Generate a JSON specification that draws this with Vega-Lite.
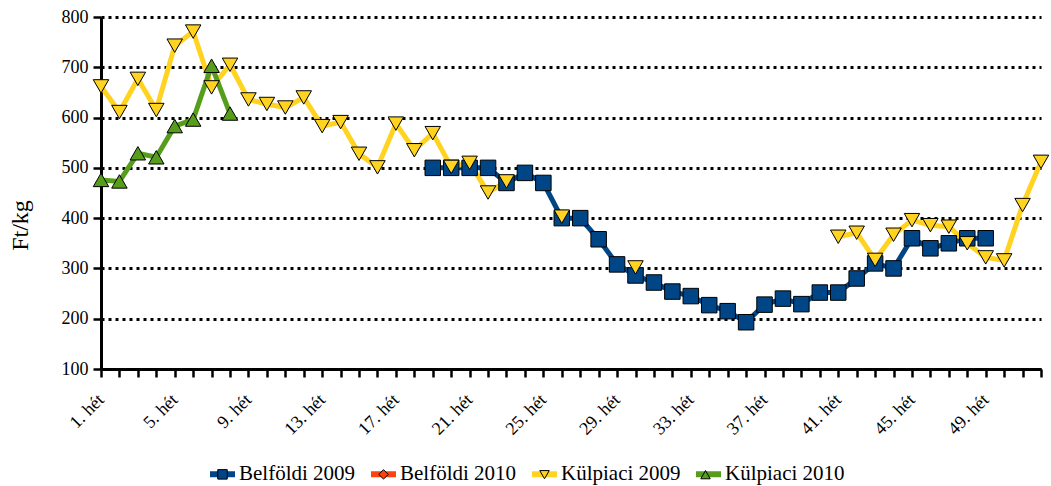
{
  "$schema": "https://vega.github.io/schema/vega-lite/v6.json",
  "width": 940,
  "height": 352,
  "autosize": {"type": "none"},
  "padding": {"left": 101, "top": 17, "right": 10, "bottom": 117},
  "background": "white",
  "config": {"view": {"stroke": null}, "font": "Liberation Serif"},
  "data": {"values": [
    {"week": 19, "series": "Belföldi 2009", "value": 500},
    {"week": 20, "series": "Belföldi 2009", "value": 500},
    {"week": 21, "series": "Belföldi 2009", "value": 500},
    {"week": 22, "series": "Belföldi 2009", "value": 500},
    {"week": 23, "series": "Belföldi 2009", "value": 470},
    {"week": 24, "series": "Belföldi 2009", "value": 490},
    {"week": 25, "series": "Belföldi 2009", "value": 470},
    {"week": 26, "series": "Belföldi 2009", "value": 400},
    {"week": 27, "series": "Belföldi 2009", "value": 400},
    {"week": 28, "series": "Belföldi 2009", "value": 358},
    {"week": 29, "series": "Belföldi 2009", "value": 308},
    {"week": 30, "series": "Belföldi 2009", "value": 286},
    {"week": 31, "series": "Belföldi 2009", "value": 272},
    {"week": 32, "series": "Belföldi 2009", "value": 254},
    {"week": 33, "series": "Belföldi 2009", "value": 245},
    {"week": 34, "series": "Belföldi 2009", "value": 227},
    {"week": 35, "series": "Belföldi 2009", "value": 215},
    {"week": 36, "series": "Belföldi 2009", "value": 193},
    {"week": 37, "series": "Belföldi 2009", "value": 228},
    {"week": 38, "series": "Belföldi 2009", "value": 240},
    {"week": 39, "series": "Belföldi 2009", "value": 229},
    {"week": 40, "series": "Belföldi 2009", "value": 252},
    {"week": 41, "series": "Belföldi 2009", "value": 252},
    {"week": 42, "series": "Belföldi 2009", "value": 280},
    {"week": 43, "series": "Belföldi 2009", "value": 310},
    {"week": 44, "series": "Belföldi 2009", "value": 300},
    {"week": 45, "series": "Belföldi 2009", "value": 360},
    {"week": 46, "series": "Belföldi 2009", "value": 340},
    {"week": 47, "series": "Belföldi 2009", "value": 350},
    {"week": 48, "series": "Belföldi 2009", "value": 360},
    {"week": 49, "series": "Belföldi 2009", "value": 360},
    {"week": 1, "series": "Külpiaci 2009", "value": 662},
    {"week": 2, "series": "Külpiaci 2009", "value": 611},
    {"week": 3, "series": "Külpiaci 2009", "value": 677},
    {"week": 4, "series": "Külpiaci 2009", "value": 615},
    {"week": 5, "series": "Külpiaci 2009", "value": 743},
    {"week": 6, "series": "Külpiaci 2009", "value": 771},
    {"week": 7, "series": "Külpiaci 2009", "value": 660},
    {"week": 8, "series": "Külpiaci 2009", "value": 705},
    {"week": 9, "series": "Külpiaci 2009", "value": 636},
    {"week": 10, "series": "Külpiaci 2009", "value": 627},
    {"week": 11, "series": "Külpiaci 2009", "value": 620},
    {"week": 12, "series": "Külpiaci 2009", "value": 640},
    {"week": 13, "series": "Külpiaci 2009", "value": 583},
    {"week": 14, "series": "Külpiaci 2009", "value": 591},
    {"week": 15, "series": "Külpiaci 2009", "value": 528},
    {"week": 16, "series": "Külpiaci 2009", "value": 501},
    {"week": 17, "series": "Külpiaci 2009", "value": 588},
    {"week": 18, "series": "Külpiaci 2009", "value": 535},
    {"week": 19, "series": "Külpiaci 2009", "value": 569},
    {"week": 20, "series": "Külpiaci 2009", "value": 502},
    {"week": 21, "series": "Külpiaci 2009", "value": 510},
    {"week": 22, "series": "Külpiaci 2009", "value": 451},
    {"week": 23, "series": "Külpiaci 2009", "value": 473},
    {"week": 24, "series": "Külpiaci 2009", "value": null},
    {"week": 25, "series": "Külpiaci 2009", "value": null},
    {"week": 26, "series": "Külpiaci 2009", "value": 403},
    {"week": 27, "series": "Külpiaci 2009", "value": null},
    {"week": 28, "series": "Külpiaci 2009", "value": null},
    {"week": 29, "series": "Külpiaci 2009", "value": null},
    {"week": 30, "series": "Külpiaci 2009", "value": 302},
    {"week": 31, "series": "Külpiaci 2009", "value": null},
    {"week": 40, "series": "Külpiaci 2009", "value": null},
    {"week": 41, "series": "Külpiaci 2009", "value": 363},
    {"week": 42, "series": "Külpiaci 2009", "value": 371},
    {"week": 43, "series": "Külpiaci 2009", "value": 317},
    {"week": 44, "series": "Külpiaci 2009", "value": 367},
    {"week": 45, "series": "Külpiaci 2009", "value": 396},
    {"week": 46, "series": "Külpiaci 2009", "value": 386},
    {"week": 47, "series": "Külpiaci 2009", "value": 383},
    {"week": 48, "series": "Külpiaci 2009", "value": 350},
    {"week": 49, "series": "Külpiaci 2009", "value": 322},
    {"week": 50, "series": "Külpiaci 2009", "value": 316},
    {"week": 51, "series": "Külpiaci 2009", "value": 426},
    {"week": 52, "series": "Külpiaci 2009", "value": 512},
    {"week": 1, "series": "Külpiaci 2010", "value": 476},
    {"week": 2, "series": "Külpiaci 2010", "value": 473},
    {"week": 3, "series": "Külpiaci 2010", "value": 529},
    {"week": 4, "series": "Külpiaci 2010", "value": 521},
    {"week": 5, "series": "Külpiaci 2010", "value": 583},
    {"week": 6, "series": "Külpiaci 2010", "value": 596},
    {"week": 7, "series": "Külpiaci 2010", "value": 703},
    {"week": 8, "series": "Külpiaci 2010", "value": 608}
  ]},
  "encoding": {
    "x": {
      "field": "week", "type": "quantitative",
      "scale": {"domain": [1, 52], "nice": false, "zero": false},
      "axis": {
        "values": [1,2,3,4,5,6,7,8,9,10,11,12,13,14,15,16,17,18,19,20,21,22,23,24,25,26,27,28,29,30,31,32,33,34,35,36,37,38,39,40,41,42,43,44,45,46,47,48,49,50,51,52],
        "labelExpr": "(datum.value - 1) % 4 == 0 ? datum.value + '. hét' : ''",
        "labelAngle": -45, "labelAlign": "right", "labelBaseline": "middle",
        "labelPadding": 20, "labelFontSize": 18, "labelFont": "Liberation Serif",
        "labelColor": "#000", "labelOverlap": false, "labelFlush": false,
        "tickSize": 8, "tickWidth": 2.5, "tickColor": "#000",
        "domainColor": "#000", "domainWidth": 3,
        "grid": false, "title": null
      }
    },
    "y": {
      "field": "value", "type": "quantitative",
      "scale": {"domain": [100, 800], "nice": false, "zero": false},
      "axis": {
        "values": [100, 200, 300, 400, 500, 600, 700, 800],
        "labelFontSize": 18, "labelFont": "Liberation Serif", "labelColor": "#000",
        "labelPadding": 5,
        "tickSize": 8, "tickWidth": 2.5, "tickColor": "#000",
        "domainColor": "#000", "domainWidth": 3,
        "grid": true, "gridColor": "#000", "gridDash": [3, 4], "gridWidth": 3,
        "title": "Ft/kg", "titleFont": "Liberation Serif", "titleFontSize": 24,
        "titleFontWeight": "normal", "titleColor": "#000",
        "titleAngle": -90, "titleX": -81, "titleY": 208,
        "titleAlign": "center", "titleBaseline": "middle"
      }
    }
  },
  "layer": [
    {
      "mark": {"type": "line", "strokeWidth": 5, "invalid": "break-paths-filter-domains"},
      "encoding": {
        "color": {
          "field": "series", "type": "nominal",
          "scale": {"domain": ["Belföldi 2009", "Belföldi 2010", "Külpiaci 2009", "Külpiaci 2010"],
                    "range": ["#004586", "#ff420e", "#ffd320", "#579d1c"]},
          "legend": {
            "orient": "none", "legendX": 109, "legendY": 441.5,
            "direction": "horizontal", "columns": 4, "title": null, "padding": 0,
            "symbolType": "stroke", "symbolStrokeWidth": 6, "symbolSize": 625,
            "symbolOffset": -3, "labelOffset": 1, "columnPadding": 3,
            "labelFontSize": 21, "labelFont": "Liberation Serif", "labelColor": "#000"
          }
        }
      }
    },
    {
      "mark": {"type": "point", "filled": true, "opacity": 1, "stroke": "#000", "strokeWidth": 1, "size": 240},
      "encoding": {
        "color": {
          "field": "series", "type": "nominal",
          "legend": {
            "orient": "none", "legendX": 109, "legendY": 451.5,
            "direction": "horizontal", "columns": 4, "title": null, "padding": 0,
            "symbolSize": 90, "symbolStrokeColor": "#000", "symbolStrokeWidth": 1,
            "symbolOffset": 7, "labelOffset": 0, "columnPadding": 141,
            "labelFontSize": 1, "labelExpr": "''"
          }
        },
        "shape": {
          "field": "series", "type": "nominal",
          "scale": {"domain": ["Belföldi 2009", "Belföldi 2010", "Külpiaci 2009", "Külpiaci 2010"],
                    "range": ["square", "diamond", "triangle-down", "triangle-up"]},
          "legend": {
            "orient": "none", "legendX": 109, "legendY": 451.5,
            "direction": "horizontal", "columns": 4, "title": null, "padding": 0,
            "symbolSize": 90, "symbolStrokeColor": "#000", "symbolStrokeWidth": 1,
            "symbolOffset": 7, "labelOffset": 0, "columnPadding": 141,
            "labelFontSize": 1, "labelExpr": "''"
          }
        }
      }
    }
  ],
  "resolve": {"legend": {"color": "independent", "shape": "independent"}}
}
